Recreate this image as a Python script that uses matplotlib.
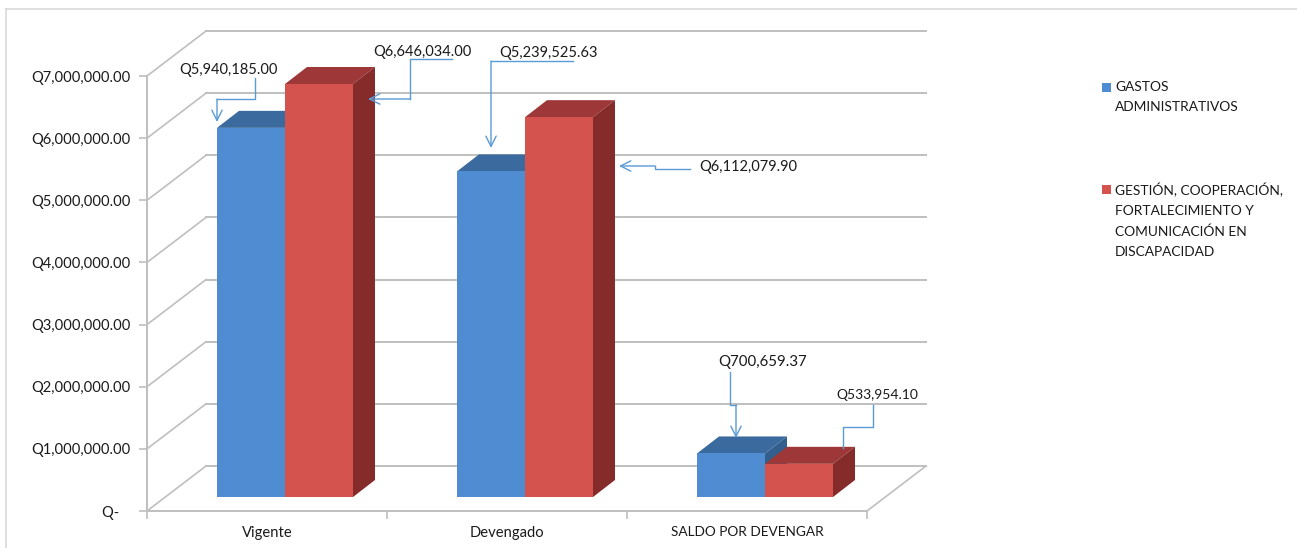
"""3D-style clustered bars of the budget by programme, drawn with plain matplotlib."""

import matplotlib
matplotlib.use('Agg')
import matplotlib.pyplot as plt
from matplotlib.patches import Polygon, Rectangle
from matplotlib.transforms import Affine2D

categories = ['Vigente', 'Devengado', 'SALDO POR DEVENGAR']
gastos = [5940185.00, 5239525.63, 700659.37]
gestion = [6646034.00, 6112079.90, 533954.10]
gastos_labels = ['Q5,940,185.00', 'Q5,239,525.63', 'Q700,659.37']
gestion_labels = ['Q6,646,034.00', 'Q6,112,079.90', 'Q533,954.10']
y_ticks = [0, 1000000, 2000000, 3000000, 4000000, 5000000, 6000000, 7000000]
y_tick_labels = ['Q-   ', 'Q1,000,000.00', 'Q2,000,000.00', 'Q3,000,000.00',
                 'Q4,000,000.00', 'Q5,000,000.00', 'Q6,000,000.00', 'Q7,000,000.00']
legend_labels = ['GASTOS\nADMINISTRATIVOS',
                 'GESTIÓN, COOPERACIÓN,\nFORTALECIMIENTO Y\nCOMUNICACIÓN EN\nDISCAPACIDAD']

W, H = 1297, 548
GRID = '#BFBFBF'
LEADER = '#5B9BD5'
TEXT = '#1A1A1A'
BLUE = ('#4F8CD1', '#3A6A9E', '#335F8E')
RED = ('#D4534F', '#9E3838', '#852B29')

plt.rcParams['font.family'] = ['Lato', 'DejaVu Sans']
plt.rcParams['font.size'] = 10.6

fig = plt.figure(figsize=(W / 100, H / 100), dpi=100)
ax = fig.add_axes([147 / W, (H - 511) / H, 720 / W, 435 / H])
ax.set_xlim(-0.5, 2.5)
ax.set_ylim(0, 7000000)
ax.patch.set_alpha(0)

# image pixels, y going down
px = Affine2D().scale(1, -1).translate(0, H)

# pixels to data units
x_unit = 3 / 720
y_unit = 7000000 / 435

# back wall and floor
wall_dx, wall_dy = 59 * x_unit, 45 * y_unit
for t in y_ticks:
    ax.plot([-0.5, -0.5 + wall_dx], [t, t + wall_dy], color=GRID, lw=1.2, clip_on=False, zorder=1)
    ax.plot([-0.5 + wall_dx, 2.5 + wall_dx], [t + wall_dy, t + wall_dy], color=GRID, lw=1.4,
            clip_on=False, zorder=1)
ax.plot([2.5, 2.5 + wall_dx], [0, wall_dy], color=GRID, lw=1.2, clip_on=False, zorder=1)

# bars sit a little behind the front plane
bar_shift = ax.transData + Affine2D().translate(18, 14)
bar_w = 68 * x_unit
depth_x, depth_y = 22 * x_unit, 17 * y_unit


def draw_bars(values, offset, colors):
    for i, v in enumerate(values):
        left = i + offset - bar_w / 2
        right = i + offset + bar_w / 2
        ax.add_patch(Polygon([(left, v), (right, v), (right + depth_x, v + depth_y),
                              (left + depth_x, v + depth_y)], facecolor=colors[1], edgecolor='none',
                             transform=bar_shift, clip_on=False, zorder=2))
        ax.add_patch(Polygon([(right, 0), (right + depth_x, depth_y), (right + depth_x, v + depth_y),
                              (right, v)], facecolor=colors[2], edgecolor='none',
                             transform=bar_shift, clip_on=False, zorder=2))
    ax.bar([i + offset for i in range(len(values))], values, width=bar_w, color=colors[0],
           transform=bar_shift, clip_on=False, zorder=2)


draw_bars(gastos, -bar_w / 2, BLUE)
draw_bars(gestion, bar_w / 2, RED)

# axes
ax.set_yticks(y_ticks)
ax.set_yticklabels(y_tick_labels)
ax.set_xticks([-0.5, 0.5, 1.5, 2.5])
ax.set_xticklabels([])
ax.set_xticks([0, 1, 2], minor=True)
ax.set_xticklabels(categories, minor=True)
ax.get_xticklabels(minor=True)[2].set_fontsize(9.8)
ax.tick_params(axis='x', which='major', length=6, color=GRID, width=1.2)
ax.tick_params(axis='x', which='minor', length=0, pad=11, labelcolor=TEXT)
ax.tick_params(axis='y', length=6, color=GRID, width=1.2, pad=6, labelcolor=TEXT)
for side in ['top', 'right']:
    ax.spines[side].set_visible(False)
for side in ['left', 'bottom']:
    ax.spines[side].set_color(GRID)
    ax.spines[side].set_linewidth(1.4)

# data labels with their elbow leaders (image pixels), the last one ends on the bar without a head
callouts = [
    (gastos_labels[0], 228, 70, 10.5, [(255, 78), (255, 99), (217, 99)], (217, 122)),
    (gestion_labels[0], 422, 52, 10.5, [(452, 59), (410, 59), (410, 99)], (368, 99)),
    (gastos_labels[1], 548, 53, 10.5, [(573, 61), (491, 61)], (491, 148)),
    (gestion_labels[1], 748, 167, 10.5, [(690, 169), (655, 169), (655, 166)], (619, 166)),
    (gastos_labels[2], 763, 362, 10.8, [(730, 372), (730, 405), (736, 405)], (736, 438)),
    (gestion_labels[2], 877, 395, 10.0, [(873, 405), (873, 427), (843, 427), (843, 448)], None),
]
for label, tx, ty, size, path, tip in callouts:
    fig.text(tx, ty, label, transform=px, ha='center', va='center', color=TEXT, zorder=6, fontsize=size)
    ax.plot([p[0] for p in path], [p[1] for p in path], color=LEADER, lw=1.0,
            transform=px, clip_on=False, zorder=5)
    if tip:
        ax.annotate('', xy=tip, xytext=path[-1], xycoords=px, textcoords=px, zorder=5,
                    arrowprops=dict(arrowstyle='->,head_length=0.7,head_width=0.35', color=LEADER,
                                    lw=1.0, shrinkA=0, shrinkB=0))

# legend
for label, color, y in zip(legend_labels, [BLUE[0], RED[0]], [87, 189]):
    fig.add_artist(Rectangle((1102, y - 4), 9, 9, facecolor=color, edgecolor='none', transform=px))
    fig.text(1115, y - 6, label, transform=px, ha='left', va='top', color=TEXT,
             fontsize=9.9, linespacing=1.8)

# chart frame, cropped at the top and left
fig.add_artist(plt.Line2D([6, 1297], [9, 9], color='#D9D9D9', lw=1.2, transform=px))
fig.add_artist(plt.Line2D([6, 6], [9, 548], color='#D9D9D9', lw=1.2, transform=px))

fig.savefig('out.png', dpi=100)
